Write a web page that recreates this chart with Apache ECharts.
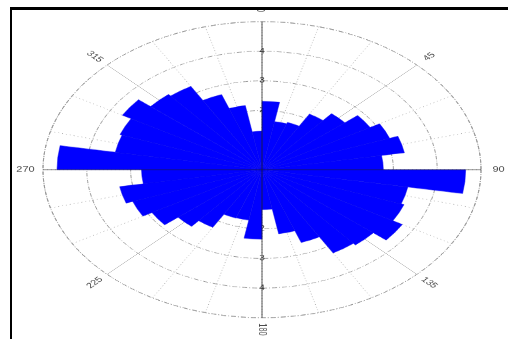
<!DOCTYPE html>
<html>
<head>
<meta charset="utf-8">
<script src="https://cdn.jsdelivr.net/npm/echarts@6/dist/echarts.min.js"></script>
<style>
  html, body { margin: 0; padding: 0; background: #fff; }
  body { width: 508px; height: 339px; position: relative; overflow: hidden; }
  /* the rose is drawn round, then squashed into the ellipse of the original */
  #chart { position: absolute; left: 0; top: -1.65px; width: 508px; height: 508px; transform: scaleY(0.6758); transform-origin: 0 0; }
  #frame { position: absolute; left: 10px; top: 7px; right: 0; bottom: 0; border-top: 3px solid #000; border-left: 2px solid #000; pointer-events: none; }
</style>
</head>
<body>
<div id="chart"></div>
<div id="frame"></div>
<script>
// 10 degree bins, clockwise from north
const binStarts = [0, 10, 20, 30, 40, 50, 60, 70, 80, 90, 100, 110,
  120, 130, 140, 150, 160, 170, 180, 190, 200, 210, 220, 230,
  240, 250, 260, 270, 280, 290, 300, 310, 320, 330, 340, 350];
const frequency = [2.31, 1.65, 1.70, 2.17, 2.47, 2.85, 3.10, 3.30, 2.77, 4.65, 3.38, 3.45,
  3.70, 3.32, 3.25, 2.62, 2.20, 1.35, 2.35, 1.73, 1.74, 2.25, 2.50, 2.90,
  3.14, 3.30, 2.75, 4.68, 3.40, 3.45, 3.68, 3.32, 3.25, 2.70, 2.20, 1.30];

const dirTicks = [0, 45, 90, 135, 180, 225, 270, 315];
const dirLabels = ['0', '45', '90', '135', '180', '225', '270', '315'];
const ringValues = [1, 2, 3, 4];
const ringLabels = ['1', '2', '3', '4'];

const R_MAX = 5;
const LABEL_R = 5.4;
const SPOKE_R = 5.15;
const FONT = 'Liberation Sans, Arial, sans-serif';

const chart = echarts.init(document.getElementById('chart'));

const ringStyle = { color: '#9a9a9a', width: 1, type: [5, 2, 1, 2] };

// text along the spoke, flipped so it never reads upside down
const radialRotate = (a) => {
  let r = 90 - a;
  if (r < -90) r += 180;
  return r;
};

const spokeSeries = dirTicks.map((a) => {
  const cardinal = a % 90 === 0;
  return {
    type: 'line',
    coordinateSystem: 'polar',
    polarIndex: 1,
    data: [[0, a], [SPOKE_R, a]],
    symbol: 'none',
    clip: false,
    silent: true,
    z: cardinal ? 4 : 1,
    lineStyle: { color: cardinal ? '#222' : '#bdbdbd', width: 1, opacity: cardinal ? 0.75 : 1 },
  };
});

const ringLabelData = [];
[0, 180].forEach((a) => {
  ringValues.forEach((r, i) => {
    ringLabelData.push({ value: [r, a], name: ringLabels[i] });
  });
});

const option = {
  animation: false,
  backgroundColor: '#fff',
  polar: [
    { center: [262, 254], radius: 219 },
    { center: [262, 254], radius: 219 },
  ],
  angleAxis: [
    {
      polarIndex: 0,
      type: 'category',
      data: binStarts.map(String),
      startAngle: 90,
      clockwise: true,
      boundaryGap: true,
      axisLine: { show: false },
      axisTick: { show: false },
      axisLabel: { show: false },
      splitLine: { show: false },
    },
    {
      polarIndex: 1,
      type: 'value',
      min: 0,
      max: 360,
      interval: 15,
      startAngle: 90,
      clockwise: true,
      axisLine: { show: true, lineStyle: ringStyle },
      axisTick: { show: false },
      axisLabel: { show: false },
      splitLine: { show: true, lineStyle: { color: '#b0b0b0', width: 1, type: [1, 3] } },
    },
  ],
  radiusAxis: [
    {
      polarIndex: 0,
      type: 'value',
      min: 0,
      max: R_MAX,
      axisLine: { show: false },
      axisTick: { show: false },
      axisLabel: { show: false },
      splitLine: { show: false },
    },
    {
      polarIndex: 1,
      type: 'value',
      min: 0,
      max: R_MAX,
      interval: 1,
      axisLine: { show: false },
      axisTick: { show: false },
      axisLabel: { show: false },
      splitLine: { show: true, lineStyle: ringStyle },
    },
  ],
  series: [
    ...spokeSeries,
    {
      type: 'scatter',
      coordinateSystem: 'polar',
      polarIndex: 1,
      silent: true,
      z: 1,
      symbolSize: 1,
      itemStyle: { color: 'transparent' },
      data: ringLabelData,
      label: { show: true, position: 'inside', formatter: '{b}', color: '#000', fontSize: 10, fontFamily: FONT },
    },
    {
      type: 'bar',
      coordinateSystem: 'polar',
      polarIndex: 0,
      data: frequency,
      barCategoryGap: '0%',
      silent: true,
      z: 2,
      itemStyle: { color: '#0000ff', borderColor: '#0000ee', borderWidth: 0.5 },
    },
    {
      type: 'scatter',
      coordinateSystem: 'polar',
      polarIndex: 1,
      silent: true,
      clip: false,
      z: 5,
      symbolSize: 1,
      itemStyle: { color: 'transparent' },
      data: dirTicks.map((a, i) => ({
        value: [LABEL_R, a],
        name: dirLabels[i],
        label: { rotate: radialRotate(a) },
      })),
      label: { show: true, position: 'inside', formatter: '{b}', color: '#111', fontSize: 11, fontFamily: FONT },
    },
  ],
};

chart.setOption(option);
</script>
</body>
</html>
